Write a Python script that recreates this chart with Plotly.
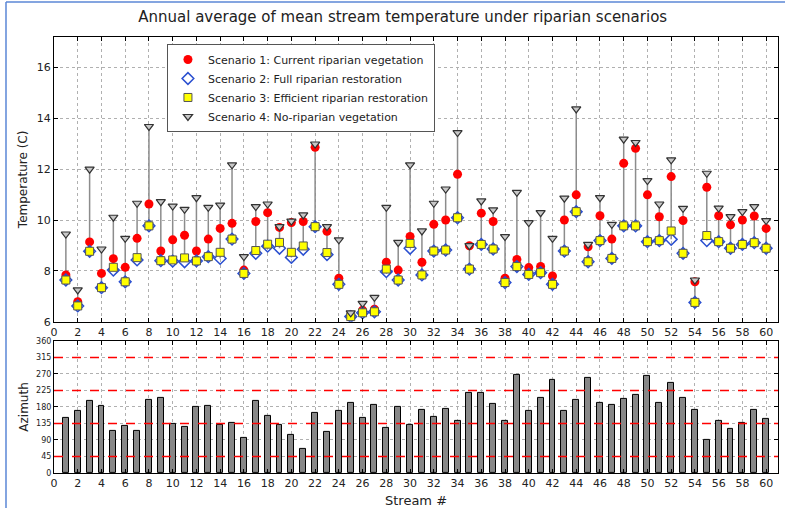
import plotly.graph_objects as go

streams = list(range(1, 61))

s1_current = [7.84, 6.79, 9.14, 7.90, 8.48, 8.14, 9.28, 10.63, 8.78, 9.22,
              9.40, 8.78, 9.25, 9.67, 9.87, 8.03, 9.94, 10.29, 9.71, 9.90,
              9.94, 12.86, 9.56, 7.71, 6.26, 6.45, 6.49, 8.34, 8.03, 9.35,
              8.34, 9.83, 10.00, 11.80, 8.99, 10.27, 9.94, 7.71, 8.45, 8.13,
              8.17, 7.80, 10.00, 10.99, 8.95, 10.17, 9.25, 12.23, 12.82, 10.99,
              10.13, 11.71, 9.98, 7.57, 11.29, 10.17, 9.81, 10.00, 10.16, 9.67]

s2_full = [7.64, 6.62, 8.77, 7.34, 8.03, 7.57, 8.43, 9.77, 8.40, 8.38,
           8.36, 8.39, 8.56, 8.49, 9.25, 7.90, 8.69, 8.97, 8.89, 8.53,
           8.85, 9.74, 8.64, 7.47, 6.20, 6.35, 6.39, 7.97, 7.64, 8.89,
           7.84, 8.78, 8.82, 10.09, 8.07, 9.04, 8.86, 7.54, 8.17, 7.86,
           7.93, 7.47, 8.78, 10.33, 8.36, 9.19, 8.49, 9.77, 9.77, 9.15,
           9.19, 9.24, 8.69, 6.76, 9.19, 9.15, 8.89, 9.04, 9.11, 8.89]

s3_efficient = [7.64, 6.62, 8.77, 7.34, 8.14, 7.57, 8.52, 9.77, 8.40, 8.43,
                8.51, 8.39, 8.56, 8.73, 9.25, 7.90, 8.80, 9.05, 9.12, 8.73,
                8.98, 9.74, 8.72, 7.47, 6.20, 6.35, 6.39, 8.07, 7.64, 9.08,
                7.84, 8.78, 8.82, 10.09, 8.07, 9.04, 8.86, 7.54, 8.17, 7.86,
                7.93, 7.47, 8.78, 10.33, 8.36, 9.19, 8.49, 9.77, 9.77, 9.15,
                9.19, 9.57, 8.69, 6.76, 9.39, 9.15, 8.89, 9.04, 9.11, 8.89]

s4_none = [9.45, 7.25, 12.00, 8.86, 10.11, 9.28, 10.66, 13.68, 10.72, 10.55,
           10.42, 10.88, 10.50, 10.59, 12.17, 8.56, 10.53, 10.63, 9.74, 9.96,
           10.20, 12.99, 9.74, 9.22, 6.35, 6.72, 6.96, 10.50, 9.12, 12.17,
           9.57, 10.66, 11.22, 13.44, 8.99, 10.75, 10.40, 9.35, 11.09, 9.90,
           10.29, 9.28, 10.86, 14.37, 9.04, 10.88, 9.83, 13.18, 13.05, 11.55,
           10.63, 12.37, 10.46, 7.64, 11.84, 10.47, 10.13, 10.33, 10.53, 9.98]

azimuth = [150, 168, 197, 184, 115, 129, 115, 199, 205, 134,
           125, 181, 183, 131, 136, 96, 197, 155, 131, 104,
           67, 163, 112, 170, 191, 150, 186, 122, 179, 131,
           172, 152, 176, 141, 218, 218, 189, 141, 267, 168,
           205, 253, 168, 199, 258, 191, 186, 202, 212, 264,
           191, 245, 205, 173, 90, 141, 120, 136, 173, 147]

azimuth_refs = [45, 135, 225, 315]
x_ticks = list(range(0, 61, 2))
temp_ticks = [6, 8, 10, 12, 14, 16]
az_ticks = list(range(0, 361, 45))

FONT = "DejaVu Sans"

fig = go.Figure()

# vertical connectors from min to max of scenarios
vx, vy = [], []
for i, s in enumerate(streams):
    vals = [s1_current[i], s2_full[i], s3_efficient[i], s4_none[i]]
    vx += [s, s, None]
    vy += [min(vals), max(vals), None]
fig.add_trace(go.Scatter(x=vx, y=vy, mode="lines", line=dict(color="#8c8c8c", width=1.5),
                         showlegend=False, hoverinfo="skip", xaxis="x", yaxis="y"))

fig.add_trace(go.Scatter(x=streams, y=s1_current, mode="markers", name="Scenario 1: Current riparian vegetation",
                         marker=dict(symbol="circle", size=9, color="#ff0000", line=dict(width=0)),
                         xaxis="x", yaxis="y"))
fig.add_trace(go.Scatter(x=streams, y=s2_full, mode="markers", name="Scenario 2: Full riparian restoration",
                         marker=dict(symbol="diamond-open", size=9, color="#2a4fd0", line=dict(width=1.5)),
                         xaxis="x", yaxis="y"))
fig.add_trace(go.Scatter(x=streams, y=s3_efficient, mode="markers", name="Scenario 3: Efficient riparian restoration",
                         marker=dict(symbol="square", size=8, color="#ffff00", line=dict(width=1, color="#555555")),
                         xaxis="x", yaxis="y"))
fig.add_trace(go.Scatter(x=streams, y=s4_none, mode="markers", name="Scenario 4: No-riparian vegetation",
                         marker=dict(symbol="triangle-down", size=8, color="#c8c8c8", line=dict(width=1.2, color="#333333")),
                         xaxis="x", yaxis="y"))

fig.add_trace(go.Bar(x=streams, y=azimuth, width=0.5, marker=dict(color="#878787", line=dict(color="#000000", width=1)),
                     showlegend=False, xaxis="x2", yaxis="y2"))

for r in azimuth_refs:
    fig.add_shape(type="line", xref="x2 domain", yref="y2", x0=0, x1=1, y0=r, y1=r,
                  line=dict(color="#ff0000", width=1.5, dash="dash"), layer="above")

# thin blue frame at the image's left and top edges (as in the reference screenshot)
fig.add_shape(type="line", xref="paper", yref="paper", x0=-0.0663, x1=-0.0663, y0=-0.2, y1=1.0803,
              line=dict(color="#5b87d6", width=1.5))
fig.add_shape(type="line", xref="paper", yref="paper", x0=-0.0663, x1=1.05, y0=1.0803, y1=1.0803,
              line=dict(color="#5b87d6", width=1.5))

axis_common = dict(showline=True, linecolor="black", linewidth=1, mirror="ticks", ticks="inside",
                   ticklen=4, tickcolor="black", showgrid=True, gridcolor="#b0b0b0", griddash="dot",
                   gridwidth=1, zeroline=False, automargin=False,
                   tickfont=dict(family=FONT, size=11, color="#222"))

fig.update_layout(
    width=785, height=508,
    margin=dict(l=54, r=7, t=37, b=35, autoexpand=False),
    paper_bgcolor="white", plot_bgcolor="white",
    font=dict(family=FONT, color="#222"),
    title=dict(text="Annual average of mean stream temperature under riparian scenarios",
               x=0.513, xanchor="center", y=0.968, yanchor="middle", font=dict(family=FONT, size=15, color="#222")),
    xaxis=dict(axis_common, domain=[0, 1], range=[0, 61], tickvals=x_ticks, anchor="y"),
    yaxis=dict(axis_common, domain=[0.347, 1], range=[6, 17.2], tickvals=temp_ticks, automargin=True,
               title=dict(text="Temperature (C)", font=dict(family=FONT, size=12), standoff=6)),
    xaxis2=dict(axis_common, domain=[0, 1], range=[0, 61], tickvals=x_ticks, anchor="y2",
                title=dict(text="Stream #", font=dict(family=FONT, size=13))),
    yaxis2=dict(axis_common, domain=[0, 0.303], range=[0, 360], tickvals=az_ticks, anchor="x2", automargin=True,
                tickfont=dict(family=FONT, size=8, color="#222"),
                title=dict(text="Azimuth", font=dict(family=FONT, size=12), standoff=4)),
    legend=dict(x=0.156, y=0.984, xanchor="left", yanchor="top", bgcolor="white",
                bordercolor="#555", borderwidth=1, font=dict(family=FONT, size=11, color="#222"),
                tracegroupgap=0, itemwidth=30),
    bargap=0,
    showlegend=True,
)

fig.write_html("out.html", config={"displayModeBar": False},
               post_script="document.body.style.margin='0px';")
